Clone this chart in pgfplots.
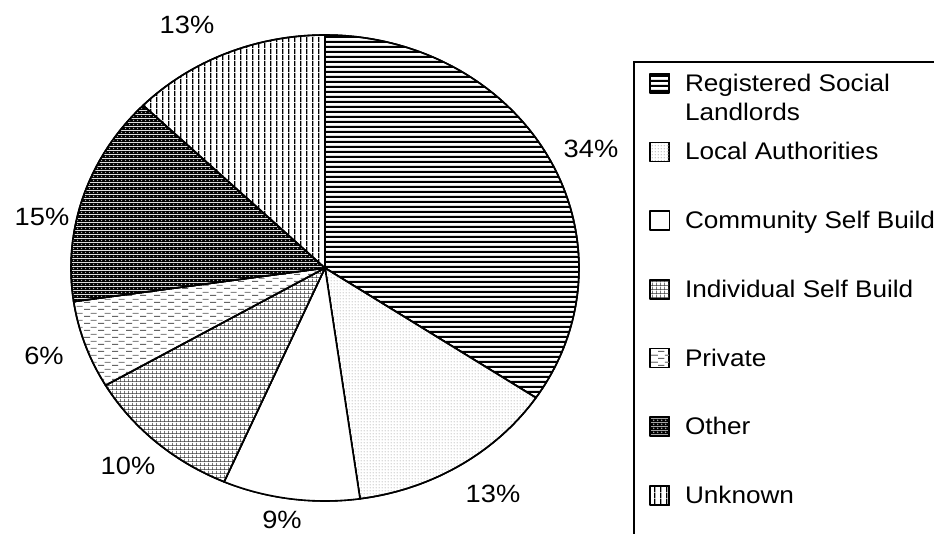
\documentclass[border=0pt]{standalone}
\usepackage{pgfplots}
\pgfplotsset{compat=1.18}
\usepackage{fontspec}
\setmainfont{Liberation Sans}[FakeStretch=1.09]
\usetikzlibrary{patterns.meta}

\tikzdeclarepattern{name=pRSL, type=colored,
  bottom left={(0pt,0pt)}, top right={(4.7pt,4.7pt)}, tile size={(4.7pt,4.7pt)},
  code={\fill[black] (0pt,0pt) rectangle (4.7pt,2.3pt);}}
\tikzdeclarepattern{name=pLA, type=colored,
  bottom left={(0pt,0pt)}, top right={(3pt,3pt)}, tile size={(3pt,3pt)},
  code={\fill[black!60] (1.5pt,1.5pt) circle[radius=0.6pt];}}
\tikzdeclarepattern{name=pISB, type=colored,
  bottom left={(0pt,0pt)}, top right={(4pt,4pt)}, tile size={(4pt,4pt)},
  code={\fill[black!80] (0pt,0pt) rectangle (4pt,0.8pt); \fill[black!80] (0pt,0pt) rectangle (0.8pt,4pt);}}
\tikzdeclarepattern{name=pPriv, type=colored,
  bottom left={(0pt,0pt)}, top right={(14pt,7pt)}, tile size={(14pt,7pt)},
  code={\fill[black!60] (0pt,0pt) rectangle (6.5pt,1.2pt); \fill[black!45] (7pt,3.5pt) rectangle (13.5pt,4.7pt);}}
\tikzdeclarepattern{name=pOther, type=colored,
  bottom left={(0pt,0pt)}, top right={(4pt,4pt)}, tile size={(4pt,4pt)},
  code={\fill[black] (0pt,0pt) rectangle (4pt,4pt); \fill[white!70!black] (2pt,2pt) circle[radius=0.9pt];}}
\tikzdeclarepattern{name=pUnk, type=colored,
  bottom left={(0pt,0pt)}, top right={(6pt,6pt)}, tile size={(6pt,6pt)},
  code={\fill[black] (0pt,0pt) rectangle (1.5pt,6pt);}}

% shares (percent), clockwise from 12 o'clock
\def\vA{34.4}% Registered Social Landlords
\def\vB{13.4}% Local Authorities
\def\vC{8.7}%  Community Self Build
\def\vD{10.1}% Individual Self Build
\def\vE{6.1}%  Private
\def\vF{14.6}% Other
\def\vG{12.7}% Unknown
\pgfmathsetmacro\aO{90}
\pgfmathsetmacro\aA{\aO-3.6*\vA}
\pgfmathsetmacro\aB{\aA-3.6*\vB}
\pgfmathsetmacro\aC{\aB-3.6*\vC}
\pgfmathsetmacro\aD{\aC-3.6*\vD}
\pgfmathsetmacro\aE{\aD-3.6*\vE}
\pgfmathsetmacro\aF{\aE-3.6*\vF}
\pgfmathsetmacro\aG{\aF-3.6*\vG}
\newcommand\lab{\fontsize{25}{30}\selectfont}

\begin{document}%
\begin{tikzpicture}
\useasboundingbox (0pt,0pt) rectangle (934pt,534pt);
\clip (0pt,0pt) rectangle (934pt,534pt);
\begin{axis}[
  at={(0pt,0pt)}, anchor=south west,
  width=934pt, height=534pt, scale only axis,
  xmin=0, xmax=934, ymin=0, ymax=534,
  hide axis, clip=false,
  slice/.style={draw=black, line width=1.6pt, line join=round, preaction={fill=white}, samples=90},
  legend image code/.code={\draw[#1, line width=1.5pt] (0pt,-1.5pt) rectangle (19pt,17.5pt);},
  legend style={at={(axis cs:634,472)}, anchor=north west, draw=none, fill=none,
    inner xsep=15.5pt, inner ysep=11pt, outer sep=0pt,
    row sep=48.2pt, column sep=15pt,
    font=\fontsize{24}{29.5}\selectfont,
    cells={anchor=base west},
    nodes={inner sep=0pt, text height=17pt, text depth=0pt}},
]
\addplot[slice, pattern=pRSL, domain=\aA:\aO] ({325+254*cos(x)},{266+233*sin(x)}) -- (axis cs:325,266) -- cycle;
\addlegendentry{\parbox[t]{230pt}{Registered Social\\Landlords}}
\addplot[slice, pattern=pLA, domain=\aB:\aA] ({325+254*cos(x)},{266+233*sin(x)}) -- (axis cs:325,266) -- cycle;
\addlegendentry{Local Authorities}
\addplot[slice, fill=white, domain=\aC:\aB] ({325+254*cos(x)},{266+233*sin(x)}) -- (axis cs:325,266) -- cycle;
\addlegendentry{Community Self Build}
\addplot[slice, pattern=pISB, domain=\aD:\aC] ({325+254*cos(x)},{266+233*sin(x)}) -- (axis cs:325,266) -- cycle;
\addlegendentry{Individual Self Build}
\addplot[slice, pattern=pPriv, domain=\aE:\aD] ({325+254*cos(x)},{266+233*sin(x)}) -- (axis cs:325,266) -- cycle;
\addlegendentry{Private}
\addplot[slice, pattern=pOther, domain=\aF:\aE] ({325+254*cos(x)},{266+233*sin(x)}) -- (axis cs:325,266) -- cycle;
\addlegendentry{Other}
\addplot[slice, pattern=pUnk, domain=\aG:\aF] ({325+254*cos(x)},{266+233*sin(x)}) -- (axis cs:325,266) -- cycle;
\addlegendentry{Unknown}
\draw[line width=1.5pt] (axis cs:634,-30) rectangle (axis cs:980,472);
\node[font=\lab] at (axis cs:591,385) {34\%};
\node[font=\lab] at (axis cs:493,40) {13\%};
\node[font=\lab] at (axis cs:282,14) {9\%};
\node[font=\lab] at (axis cs:128,68) {10\%};
\node[font=\lab] at (axis cs:44,178) {6\%};
\node[font=\lab] at (axis cs:42,317) {15\%};
\node[font=\lab] at (axis cs:187,509) {13\%};
\end{axis}
\end{tikzpicture}%
\end{document}
